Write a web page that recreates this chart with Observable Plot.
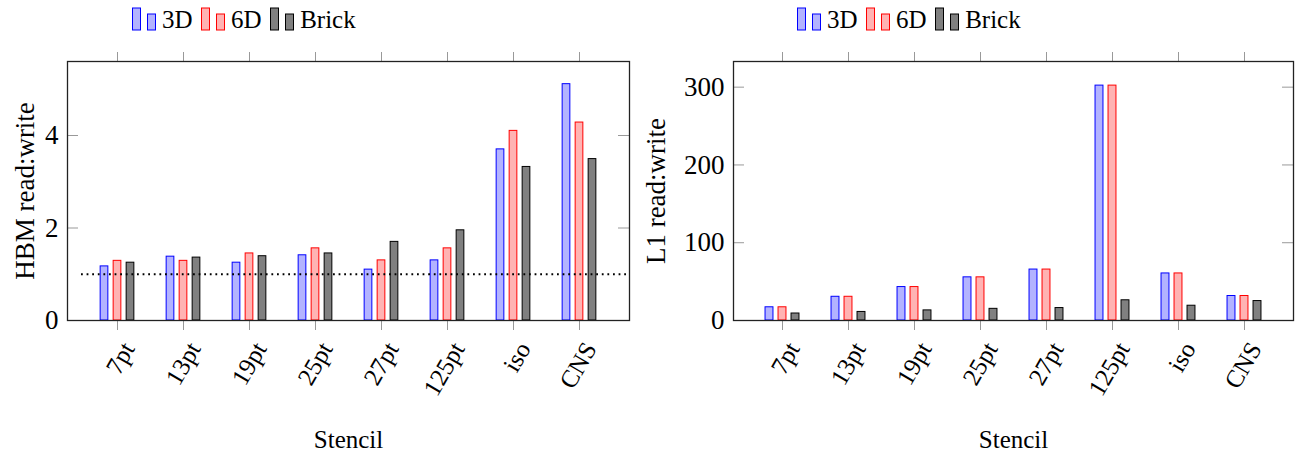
<!DOCTYPE html>
<html>
<head>
<meta charset="utf-8">
<script src="https://cdn.jsdelivr.net/npm/d3@7"></script>
<script src="https://cdn.jsdelivr.net/npm/@observablehq/plot@0.6"></script>
<style>
  html, body { margin: 0; padding: 0; background: #fff; }
  #root { position: relative; width: 1298px; height: 458px; overflow: hidden; font-family: "Liberation Serif", serif; }
  .panel { position: absolute; top: 0; }
  .legend { position: absolute; top: 7px; display: flex; align-items: flex-end; font-family: "Liberation Serif", serif; font-size: 25px; line-height: 25px; color: #000; }
  .legend .item { display: flex; align-items: flex-end; margin-right: 8.5px; }
  .legend svg { display: block; margin-right: 5px; margin-bottom: 1px; }
</style>
</head>
<body>
<div id="root"></div>
<script>
// ---- data ----
const stencils = ["7pt", "13pt", "19pt", "25pt", "27pt", "125pt", "iso", "CNS"];
const seriesNames = ["3D", "6D", "Brick"];
const hbm3D    = [1.17, 1.38, 1.25, 1.41, 1.10, 1.30, 3.70, 5.11];
const hbm6D    = [1.29, 1.29, 1.45, 1.56, 1.30, 1.56, 4.10, 4.28];
const hbmBrick = [1.25, 1.36, 1.39, 1.45, 1.70, 1.95, 3.32, 3.49];
const l13D     = [17, 30.5, 43, 55.5, 65.5, 302, 60.5, 31.5];
const l16D     = [17, 30.5, 43, 55.5, 65.5, 302, 60.5, 31.5];
const l1Brick  = [9, 11, 13, 15, 16, 26, 19, 25];
const hbmTicks = [0, 2, 4];
const l1Ticks  = [0, 100, 200, 300];
const refLine  = [1];

const fills   = {"3D": "#b3b3ff", "6D": "#ffb3b3", "Brick": "#808080"};
const strokes = {"3D": "#0000ff", "6D": "#ff0000", "Brick": "#000000"};
const offsets = {"3D": -13, "6D": 0, "Brick": 13};
const FONT = "Liberation Serif, serif";

function rows(a, b, c) {
  const out = [];
  stencils.forEach((s, i) => {
    out.push({stencil: s, series: "3D", value: a[i]});
    out.push({stencil: s, series: "6D", value: b[i]});
    out.push({stencil: s, series: "Brick", value: c[i]});
  });
  return out;
}

const W = 649, H = 458;
const marginTop = 61, marginBottom = 138;

function makePanel({data, yMax, ticks, label, marginLeft, marginRight, labelOffset, dotted}) {
  const innerW = W - marginLeft - marginRight;
  const step = innerW / (stencils.length + 0.413);
  const barW = 8.5;
  const inset = (step - barW) / 2;
  const marks = [];
  for (const s of seriesNames) {
    marks.push(Plot.barY(data.filter(d => d.series === s), {
      x: "stencil", y: "value",
      fill: fills[s], stroke: strokes[s], strokeWidth: 1,
      insetLeft: inset, insetRight: inset, dx: offsets[s]
    }));
  }
  if (dotted) {
    marks.push(Plot.ruleY(refLine, {stroke: "#000", strokeWidth: 2, strokeDasharray: "1.8,3.8", insetLeft: 14}));
  }
  // inward y ticks (left & right)
  marks.push(Plot.ruleY(ticks, {stroke: "#999", strokeWidth: 1, insetRight: innerW - 11}));
  marks.push(Plot.ruleY(ticks, {stroke: "#999", strokeWidth: 1, insetLeft: innerW - 11}));
  marks.push(Plot.axisY(ticks, {anchor: "left", tickSize: 0, tickPadding: 9, label, labelArrow: "none", labelAnchor: "center", labelOffset, fontSize: 27, fontFamily: FONT}));
  // x tick lines (outside, bottom & top)
  marks.push(Plot.axisX({anchor: "bottom", tickSize: 10, tickFormat: () => "", stroke: "#999", label: null}));
  marks.push(Plot.axisX({anchor: "top", tickSize: 10, tickFormat: () => "", stroke: "#999", label: null}));
  // rotated x tick labels
  marks.push(Plot.axisX({anchor: "bottom", tickSize: 0, tickPadding: 24, dx: 11, tickRotate: -60, fill: "#000", fontSize: 25, fontFamily: FONT, label: null}));
  // x axis title
  marks.push(Plot.axisX([], {anchor: "bottom", tickSize: 0, label: "Stencil", labelArrow: "none", labelAnchor: "center", labelOffset: 127, fontSize: 25, fontFamily: FONT}));
  marks.push(Plot.frame({stroke: "#222", strokeWidth: 1.3}));
  return Plot.plot({
    width: W, height: H,
    marginLeft, marginRight, marginTop, marginBottom,
    style: {fontFamily: FONT, fontSize: "24px", color: "#000", background: "transparent", overflow: "visible"},
    x: {type: "band", domain: stencils, paddingInner: 0, paddingOuter: 0.2066},
    y: {domain: [0, yMax]},
    marks
  });
}

function makeLegend(left) {
  const div = document.createElement("div");
  div.className = "legend";
  div.style.left = left + "px";
  for (const s of seriesNames) {
    const item = document.createElement("div");
    item.className = "item";
    const ns = "http://www.w3.org/2000/svg";
    const svg = document.createElementNS(ns, "svg");
    svg.setAttribute("width", "25"); svg.setAttribute("height", "24");
    const r1 = document.createElementNS(ns, "rect");
    r1.setAttribute("x", "0.5"); r1.setAttribute("y", "1"); r1.setAttribute("width", "8"); r1.setAttribute("height", "22");
    const r2 = document.createElementNS(ns, "rect");
    r2.setAttribute("x", "15.5"); r2.setAttribute("y", "7"); r2.setAttribute("width", "8"); r2.setAttribute("height", "16");
    for (const r of [r1, r2]) { r.setAttribute("fill", fills[s]); r.setAttribute("stroke", strokes[s]); r.setAttribute("stroke-width", "1"); svg.appendChild(r); }
    item.appendChild(svg);
    const t = document.createElement("span");
    t.textContent = s;
    item.appendChild(t);
    div.appendChild(item);
  }
  return div;
}

const root = document.getElementById("root");
const left = makePanel({data: rows(hbm3D, hbm6D, hbmBrick), yMax: 5.6, ticks: hbmTicks, label: "HBM read:write", marginLeft: 67, marginRight: 20, labelOffset: 53, dotted: true});
left.classList.add("panel"); left.style.left = "0px";
root.appendChild(left);
const right = makePanel({data: rows(l13D, l16D, l1Brick), yMax: 333, ticks: l1Ticks, label: "L1 read:write", marginLeft: 84, marginRight: 5, labelOffset: 88, dotted: false});
right.classList.add("panel"); right.style.left = "649px";
root.appendChild(right);
root.appendChild(makeLegend(132));
root.appendChild(makeLegend(797));
</script>
</body>
</html>
